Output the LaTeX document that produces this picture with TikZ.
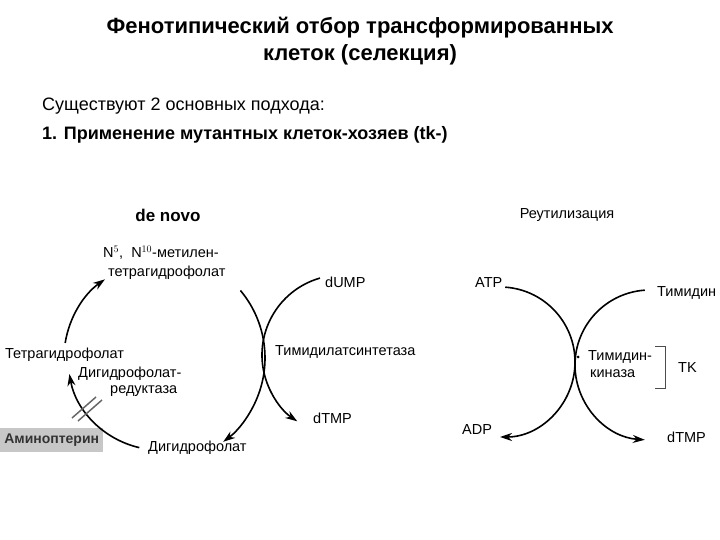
\documentclass[tikz,border=0pt]{standalone}
\usepackage{fontspec}
\setmainfont{Liberation Sans}
\usetikzlibrary{arrows.meta,calc}
\begin{document}
\begin{tikzpicture}[x=1pt,y=1pt,
  lbl/.style={anchor=west,inner sep=0pt,font=\fontsize{14.5}{16}\selectfont},
  arc/.style={line width=1.6pt,-{Stealth[length=12pt,width=8pt]}}]
\useasboundingbox (0,0) rectangle (720,540);
\node (t1) at (360,512) {\fontsize{22}{24}\selectfont\bfseries Фенотипический отбор трансформированных};
\node (t2) at (360,485) {\fontsize{22}{24}\selectfont\bfseries клеток (селекция)};
\node[lbl,font=\fontsize{18}{20}\selectfont] (s1) at (42,434) {Существуют 2 основных подхода:};
\node[lbl,font=\fontsize{18}{20}\selectfont\bfseries] (s2) at (42,405) {1. Применение мутантных клеток-хозяев (tk-)};
% de novo
\node (dn) at (168,325) {\fontsize{17}{18}\selectfont\bfseries de novo};
\node[lbl] (mth) at (103,287) {N$^{5}$,\ \ N$^{10}$-метилен-};
\node[lbl] (thf2) at (108,267) {тетрагидрофолат};
\node[lbl] (dump) at (325,258) {dUMP};
\node[lbl] (ts) at (275,188) {Тимидилатсинтетаза};
\node[lbl] (thf) at (5,185) {Тетрагидрофолат};
\node[lbl] (dhfr1) at (78,166) {Дигидрофолат-};
\node[lbl] (dhfr2) at (110,149) {редуктаза};
\node[lbl] (dtmp1) at (313,122) {dTMP};
\node[lbl] (dhf) at (148,92) {Дигидрофолат};
\node[fill=black!22,anchor=west,minimum width=103pt,minimum height=24pt,inner sep=0pt] (amp) at (0,100) {\fontsize{14}{15}\selectfont\bfseries\color{black!80}Аминоптерин};
\coordinate (c1) at (160,182);
\draw[arc] ($(c1)+(40:105)$) arc[start angle=40,end angle=-53,radius=105];
\draw[arc] ($(c1)+(171:96)$) arc[start angle=171,end angle=125,radius=96];
\draw[arc] ($(c1)+(257:92)$) arc[start angle=257,end angle=190,radius=92];
\coordinate (c2) at (342,185);
\draw[arc] ($(c2)+(106:80)$) arc[start angle=106,end angle=236,radius=80];
\draw[black!60,line width=1.5pt] (72,122) -- (96,143);
\draw[black!60,line width=1.5pt] (78,119) -- (102,140);
% reutilisation
\node (re) at (567,325) {\fontsize{14.5}{16}\selectfont Реутилизация};
\node[lbl] (atp) at (475,257) {ATP};
\node[lbl] (tmd) at (657,247) {Тимидин};
\node[lbl] (tk1) at (588,183) {Тимидин-};
\node[lbl] (tk2) at (590,166) {киназа};
\node[lbl] (tk) at (678,172) {TK};
\node[lbl] (adp) at (462,110) {ADP};
\node[lbl] (dtmp2) at (667,103) {dTMP};
\coordinate (c3) at (500,178);
\coordinate (c4) at (650,175);
\draw[arc] ($(c3)+(86:75)$) arc[start angle=86,end angle=-90,radius=75];
\draw[arc] ($(c4)+(94:75)$) arc[start angle=94,end angle=266,radius=75];
\fill (578,183) circle (1.5pt);
\draw[black!70,line width=1pt] (655,193) -- (665,193) -- (665,151) -- (655,151);
\end{tikzpicture}
\end{document}
